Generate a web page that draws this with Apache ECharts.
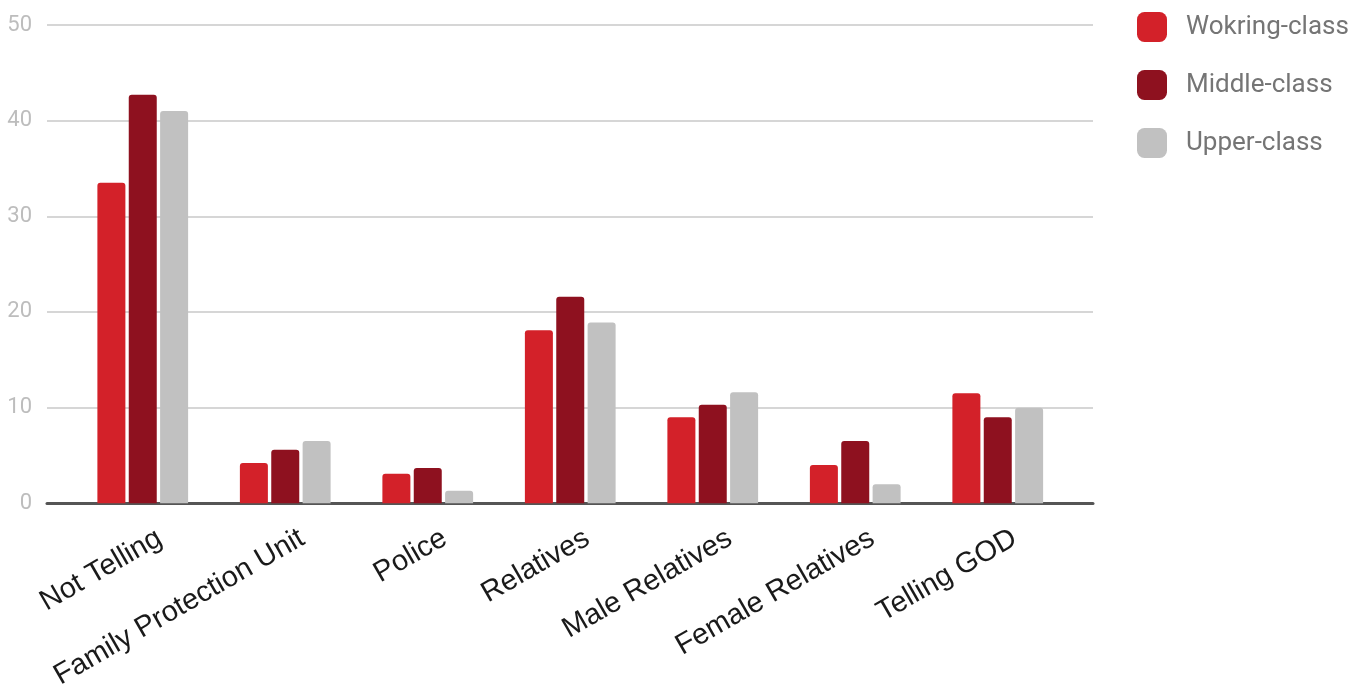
<!DOCTYPE html>
<html>
<head>
<meta charset="utf-8">
<script src="https://cdn.jsdelivr.net/npm/echarts@6/dist/echarts.min.js"></script>
<style>
  html, body { margin: 0; padding: 0; background: #fff; }
  #chart { width: 1368px; height: 684px; }
</style>
</head>
<body>
<div id="chart"></div>
<script>
// Who people turn to, by social class (percent)
const categories = ['Not Telling', 'Family Protection Unit', 'Police', 'Relatives',
                    'Male Relatives', 'Female Relatives', 'Telling GOD'];
const seriesNames = ['Wokring-class', 'Middle-class', 'Upper-class'];
const workingClass = [33.5, 4.2, 3.1, 18.1, 9.0, 4.0, 11.5];
const middleClass  = [42.7, 5.6, 3.7, 21.6, 10.3, 6.5, 9.0];
const upperClass   = [41.0, 6.5, 1.3, 18.9, 11.6, 2.0, 10.0];
const yTicks = [0, 10, 20, 30, 40, 50];

const colors = ['#D32129', '#8E111F', '#C1C1C1'];
const values = [workingClass, middleClass, upperClass];

const chart = echarts.init(document.getElementById('chart'));

const TOP = 25, BOTTOM = 180.7;
const yMin = yTicks[0], yMax = yTicks[yTicks.length - 1], yStep = yTicks[1] - yTicks[0];

chart.setOption({
  animation: false,
  color: colors,
  legend: {
    orient: 'vertical',
    left: 1137,
    top: 12,
    padding: 0,
    itemWidth: 30,
    itemHeight: 30,
    itemGap: 28,
    icon: 'roundRect',
    textStyle: {
      fontFamily: 'Roboto',
      fontSize: 26,
      color: '#757575',
      padding: [4, 0, 0, 14]
    },
    data: seriesNames
  },
  grid: [
    // bars
    { left: 71.5, right: 299, top: TOP, bottom: BOTTOM, outerBoundsMode: 'none' },
    // gridlines, y labels and baseline span a wider band
    { left: 47, right: 275, top: TOP, bottom: BOTTOM, outerBoundsMode: 'none' },
    // category labels
    { left: 88.5, right: 282, top: TOP, bottom: BOTTOM, outerBoundsMode: 'none' }
  ],
  xAxis: [
    {
      type: 'category', gridIndex: 0, data: categories,
      axisLine: { show: false }, axisTick: { show: false }, axisLabel: { show: false }
    },
    {
      type: 'value', gridIndex: 1, min: 0, max: 1,
      axisLine: { show: true, onZero: false, lineStyle: { color: '#555', width: 3 } },
      axisTick: { show: false }, axisLabel: { show: false }, splitLine: { show: false }
    },
    {
      type: 'category', gridIndex: 2, data: categories,
      axisLine: { show: false }, axisTick: { show: false },
      axisLabel: {
        interval: 0, rotate: 30, margin: 33,
        fontFamily: 'Liberation Sans', fontSize: 29, color: '#1a1a1a'
      }
    }
  ],
  yAxis: [
    {
      type: 'value', gridIndex: 0, min: yMin, max: yMax, interval: yStep,
      axisLine: { show: false }, axisTick: { show: false },
      axisLabel: { show: false }, splitLine: { show: false }
    },
    {
      type: 'value', gridIndex: 1, min: yMin, max: yMax, interval: yStep,
      axisLine: { show: false }, axisTick: { show: false },
      axisLabel: { fontFamily: 'Roboto', fontSize: 22, color: '#BDBDBD', margin: 15 },
      splitLine: { lineStyle: { color: '#D6D6D6', width: 2 } }
    },
    {
      type: 'value', gridIndex: 2, min: yMin, max: yMax,
      show: false
    }
  ],
  series: seriesNames.map((name, i) => ({
    name: name,
    type: 'bar',
    xAxisIndex: 0,
    yAxisIndex: 0,
    barWidth: 28,
    barGap: '12%',
    data: values[i],
    itemStyle: { color: colors[i], borderRadius: [3, 3, 0, 0] }
  }))
});
</script>
</body>
</html>
